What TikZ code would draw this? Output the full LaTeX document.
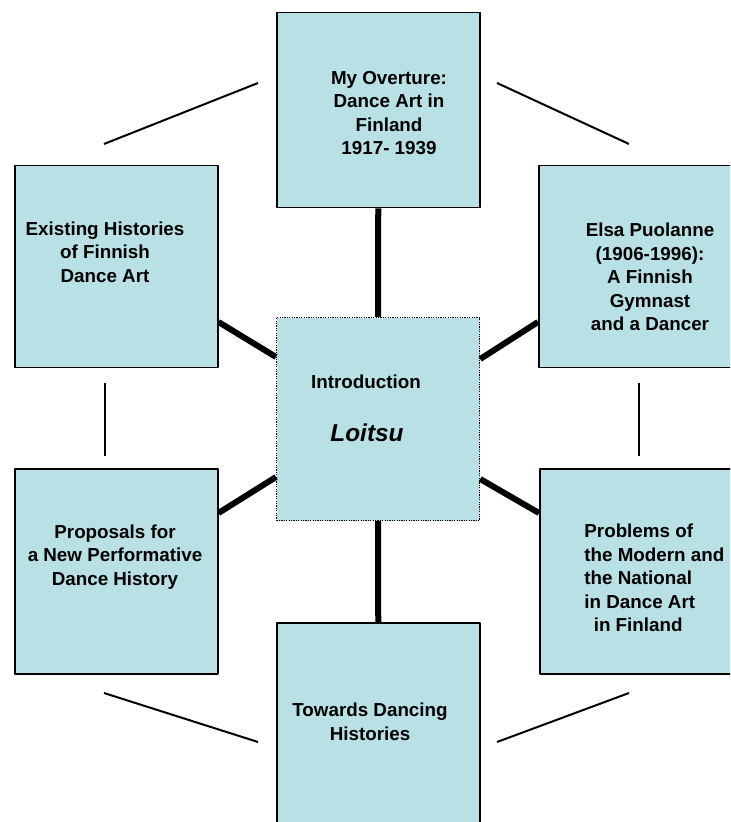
\documentclass[tikz,border=0pt]{standalone}
\usepackage{fontspec}
\setmainfont{Liberation Sans}
\definecolor{boxblue}{RGB}{185,224,228}
\begin{document}
\begin{tikzpicture}[x=0.5pt,y=-0.5pt,line join=round,font=\fontsize{9.4}{11.8}\selectfont\bfseries]
\tikzset{box/.style={draw=black,line width=0.75pt,fill=boxblue,inner sep=0pt,minimum width=101.5pt,anchor=north west},
  txt/.style={align=center,inner sep=0pt},
  bar/.style={line width=3pt},
  fineline/.style={line width=1pt}}
\useasboundingbox (0,0) rectangle (730,822);
\clip (0,0) rectangle (730,822);
% boxes
\node[box,minimum height=97.5pt] (top) at (276,12) {};
\node[box,minimum height=101.5pt,dash pattern=on 0.6pt off 0.6pt,line width=0.6pt] (intro) at (276,317) {};
\node[box,minimum height=101pt] (lu) at (14,165) {};
\node[box,minimum height=102.5pt] (ll) at (14,468) {};
\node[box,minimum height=101pt] (ru) at (538,165) {};
\node[box,minimum height=102.5pt] (rl) at (539,468) {};
\node[box,minimum height=110pt] (bot) at (276,622) {};
% texts
\node[txt] (toptxt) at (389,113) {My Overture:\\Dance Art in\\Finland\\1917- 1939};
\node[txt] (introtxt) at (366,382) {Introduction};
\node[txt,font=\fontsize{12.2}{14}\selectfont\bfseries\itshape] (loitsu) at (367,433) {Loitsu};
\node[txt] (lutxt) at (105,252) {Existing Histories\\of Finnish\\Dance Art};
\node[txt] (rutxt) at (650,277) {Elsa Puolanne\\(1906-1996):\\A Finnish\\Gymnast\\and a Dancer};
\node[txt] (lltxt) at (115,557) {Proposals for\\a New Performative\\Dance History};
\node[txt,align=left,anchor=west] (rltxt) at (584,578) {Problems of\\the Modern and\\the National\\in Dance Art\\\hspace*{0.5em}in Finland};
\node[txt] (bottxt) at (370,722) {Towards Dancing\\Histories};
% thick links to the centre
\draw[bar] (top.south) -- (intro.north);
\draw[bar] (intro.south) -- (bot.north);
\draw[bar] (lu.east |- 0,322) -- (intro.west |- 0,357);
\draw[bar] (ru.west |- 0,322) -- (intro.east |- 0,359);
\draw[bar] (ll.east |- 0,513) -- (intro.west |- 0,477);
\draw[bar] (rl.west |- 0,513) -- (intro.east |- 0,479);
% thin lines round the ring
\draw[fineline] (104,144) -- (258,83);
\draw[fineline] (497,83) -- (629,144);
\draw[fineline] (105,383) -- (105,456);
\draw[fineline] (639,383) -- (639,456);
\draw[fineline] (104,693) -- (258,742);
\draw[fineline] (497,742) -- (629,693);
\end{tikzpicture}
\end{document}
